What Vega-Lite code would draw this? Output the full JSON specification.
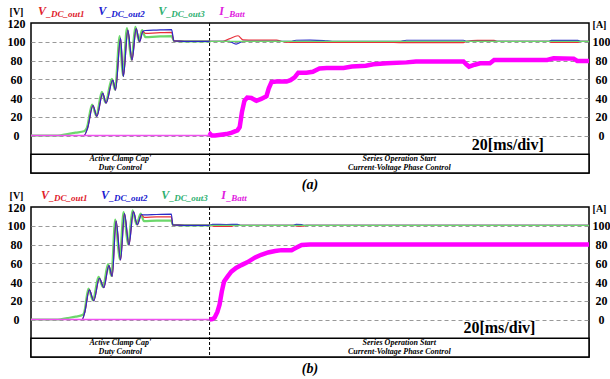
{
"$schema":"https://vega.github.io/schema/vega-lite/v6.json",
"background":"white",
"padding":{"left":6,"top":4,"right":0,"bottom":0},
"spacing":34,
"bounds":"flush",
"config":{"view":{"stroke":"black","strokeWidth":1.5},"font":"Liberation Serif"},
"datasets":{
"a":[
{"series":"V_DC_out1","t":0,"v":0},{"series":"V_DC_out1","t":19,"v":0},{"series":"V_DC_out1","t":20.3,"v":8},{"series":"V_DC_out1","t":22.2,"v":32},{"series":"V_DC_out1","t":23.6,"v":20.5},{"series":"V_DC_out1","t":25.7,"v":45},{"series":"V_DC_out1","t":26.9,"v":34.5},{"series":"V_DC_out1","t":29.3,"v":59},{"series":"V_DC_out1","t":30.3,"v":48.5},{"series":"V_DC_out1","t":32.1,"v":104},{"series":"V_DC_out1","t":33.1,"v":63},{"series":"V_DC_out1","t":34.7,"v":112.5},{"series":"V_DC_out1","t":36.2,"v":80.5},{"series":"V_DC_out1","t":37.7,"v":114},{"series":"V_DC_out1","t":38.9,"v":100},{"series":"V_DC_out1","t":40.1,"v":111},{"series":"V_DC_out1","t":41,"v":109},{"series":"V_DC_out1","t":45,"v":109.5},{"series":"V_DC_out1","t":50.4,"v":110},{"series":"V_DC_out1","t":51.2,"v":101},{"series":"V_DC_out1","t":55,"v":100.5},{"series":"V_DC_out1","t":64,"v":100.5},{"series":"V_DC_out1","t":68.8,"v":100.5},{"series":"V_DC_out1","t":71,"v":103},{"series":"V_DC_out1","t":74.2,"v":106.4},{"series":"V_DC_out1","t":76,"v":102},{"series":"V_DC_out1","t":80,"v":101.8},{"series":"V_DC_out1","t":88,"v":101.8},{"series":"V_DC_out1","t":90,"v":100.3},{"series":"V_DC_out1","t":93,"v":99.3},{"series":"V_DC_out1","t":110,"v":99.2},{"series":"V_DC_out1","t":130,"v":99.3},{"series":"V_DC_out1","t":134,"v":99},{"series":"V_DC_out1","t":155,"v":99},{"series":"V_DC_out1","t":156,"v":100.5},{"series":"V_DC_out1","t":160,"v":101.4},{"series":"V_DC_out1","t":166,"v":101.4},{"series":"V_DC_out1","t":167,"v":100.5},{"series":"V_DC_out1","t":185.6,"v":100.5},{"series":"V_DC_out1","t":186.5,"v":99.4},{"series":"V_DC_out1","t":196,"v":99.4},{"series":"V_DC_out1","t":197,"v":100.5},{"series":"V_DC_out1","t":200,"v":100.5},
{"series":"V_DC_out2","t":0,"v":0},{"series":"V_DC_out2","t":19,"v":0},{"series":"V_DC_out2","t":20.3,"v":8},{"series":"V_DC_out2","t":22.2,"v":32},{"series":"V_DC_out2","t":23.6,"v":20.5},{"series":"V_DC_out2","t":25.7,"v":45},{"series":"V_DC_out2","t":26.9,"v":34.5},{"series":"V_DC_out2","t":29.3,"v":59},{"series":"V_DC_out2","t":30.3,"v":48.5},{"series":"V_DC_out2","t":32.1,"v":104},{"series":"V_DC_out2","t":33.1,"v":63},{"series":"V_DC_out2","t":34.7,"v":112.5},{"series":"V_DC_out2","t":36.2,"v":80.5},{"series":"V_DC_out2","t":37.7,"v":114},{"series":"V_DC_out2","t":38.9,"v":100},{"series":"V_DC_out2","t":40.1,"v":111},{"series":"V_DC_out2","t":41,"v":112},{"series":"V_DC_out2","t":45,"v":112.5},{"series":"V_DC_out2","t":50.4,"v":113},{"series":"V_DC_out2","t":51.2,"v":101},{"series":"V_DC_out2","t":55,"v":100.5},{"series":"V_DC_out2","t":64,"v":100.5},{"series":"V_DC_out2","t":71,"v":100.5},{"series":"V_DC_out2","t":73.5,"v":97.5},{"series":"V_DC_out2","t":76,"v":100.3},{"series":"V_DC_out2","t":93,"v":100.3},{"series":"V_DC_out2","t":95,"v":101.6},{"series":"V_DC_out2","t":100,"v":101.8},{"series":"V_DC_out2","t":105,"v":101.3},{"series":"V_DC_out2","t":108,"v":100.5},{"series":"V_DC_out2","t":132,"v":100.5},{"series":"V_DC_out2","t":134.6,"v":101.6},{"series":"V_DC_out2","t":155,"v":101.6},{"series":"V_DC_out2","t":156,"v":100.5},{"series":"V_DC_out2","t":185.6,"v":100.5},{"series":"V_DC_out2","t":186.5,"v":101.4},{"series":"V_DC_out2","t":196,"v":101.4},{"series":"V_DC_out2","t":197,"v":100.5},{"series":"V_DC_out2","t":200,"v":100.5},
{"series":"V_DC_out3","t":0,"v":0},{"series":"V_DC_out3","t":9.6,"v":0},{"series":"V_DC_out3","t":13,"v":1.5},{"series":"V_DC_out3","t":16,"v":3},{"series":"V_DC_out3","t":19,"v":4.5},{"series":"V_DC_out3","t":20,"v":8},{"series":"V_DC_out3","t":21.9,"v":33},{"series":"V_DC_out3","t":23.4,"v":21},{"series":"V_DC_out3","t":25.4,"v":46.5},{"series":"V_DC_out3","t":26.7,"v":35},{"series":"V_DC_out3","t":29,"v":60.5},{"series":"V_DC_out3","t":30.1,"v":49},{"series":"V_DC_out3","t":31.8,"v":106},{"series":"V_DC_out3","t":32.9,"v":64},{"series":"V_DC_out3","t":34.4,"v":114.5},{"series":"V_DC_out3","t":36,"v":81},{"series":"V_DC_out3","t":37.4,"v":116},{"series":"V_DC_out3","t":38.7,"v":101},{"series":"V_DC_out3","t":39.8,"v":112.5},{"series":"V_DC_out3","t":41,"v":105},{"series":"V_DC_out3","t":45,"v":105.5},{"series":"V_DC_out3","t":50.4,"v":106},{"series":"V_DC_out3","t":51.2,"v":101},{"series":"V_DC_out3","t":55,"v":100.5},{"series":"V_DC_out3","t":64,"v":100.5},{"series":"V_DC_out3","t":200,"v":100.5},
{"series":"I_Batt","t":0,"v":0},{"series":"I_Batt","t":64,"v":0},{"series":"I_Batt","t":64.3,"v":1.5},{"series":"I_Batt","t":64.8,"v":0},{"series":"I_Batt","t":66,"v":0},{"series":"I_Batt","t":70,"v":1.5},{"series":"I_Batt","t":72,"v":3},{"series":"I_Batt","t":74,"v":5.5},{"series":"I_Batt","t":74.8,"v":9},{"series":"I_Batt","t":75.6,"v":25},{"series":"I_Batt","t":76.5,"v":37},{"series":"I_Batt","t":77.5,"v":40.5},{"series":"I_Batt","t":79,"v":40},{"series":"I_Batt","t":80.8,"v":37},{"series":"I_Batt","t":82.5,"v":39},{"series":"I_Batt","t":84.4,"v":42},{"series":"I_Batt","t":85.2,"v":50},{"series":"I_Batt","t":86.2,"v":57},{"series":"I_Batt","t":88,"v":57.5},{"series":"I_Batt","t":91.6,"v":57.5},{"series":"I_Batt","t":93,"v":59},{"series":"I_Batt","t":94.5,"v":62},{"series":"I_Batt","t":95.8,"v":67},{"series":"I_Batt","t":98.7,"v":67},{"series":"I_Batt","t":101,"v":68},{"series":"I_Batt","t":103.4,"v":71.5},{"series":"I_Batt","t":106,"v":72},{"series":"I_Batt","t":112,"v":72},{"series":"I_Batt","t":115,"v":73.5},{"series":"I_Batt","t":120,"v":74.5},{"series":"I_Batt","t":122.7,"v":76},{"series":"I_Batt","t":127.5,"v":77},{"series":"I_Batt","t":134.6,"v":78},{"series":"I_Batt","t":138,"v":79},{"series":"I_Batt","t":155,"v":79},{"series":"I_Batt","t":156,"v":76},{"series":"I_Batt","t":157,"v":73.5},{"series":"I_Batt","t":159,"v":75.5},{"series":"I_Batt","t":161,"v":77},{"series":"I_Batt","t":164.5,"v":77},{"series":"I_Batt","t":166,"v":80.5},{"series":"I_Batt","t":185,"v":80.5},{"series":"I_Batt","t":187.3,"v":82.3},{"series":"I_Batt","t":194.5,"v":82},{"series":"I_Batt","t":195.8,"v":79.5},{"series":"I_Batt","t":200,"v":79.5}
],
"b":[
{"series":"V_DC_out1","t":0,"v":0},{"series":"V_DC_out1","t":18.3,"v":0},{"series":"V_DC_out1","t":19.3,"v":8},{"series":"V_DC_out1","t":20.9,"v":31.5},{"series":"V_DC_out1","t":22.5,"v":20},{"series":"V_DC_out1","t":24.5,"v":44},{"series":"V_DC_out1","t":26.1,"v":34},{"series":"V_DC_out1","t":27.9,"v":57.5},{"series":"V_DC_out1","t":29.1,"v":46},{"series":"V_DC_out1","t":30.5,"v":105},{"series":"V_DC_out1","t":32.1,"v":63.5},{"series":"V_DC_out1","t":33.5,"v":113},{"series":"V_DC_out1","t":35.1,"v":79.5},{"series":"V_DC_out1","t":36.7,"v":115},{"series":"V_DC_out1","t":38.1,"v":101},{"series":"V_DC_out1","t":39.6,"v":112},{"series":"V_DC_out1","t":40.5,"v":109},{"series":"V_DC_out1","t":45,"v":109.5},{"series":"V_DC_out1","t":50.3,"v":109.5},{"series":"V_DC_out1","t":50.8,"v":101},{"series":"V_DC_out1","t":55,"v":100.5},{"series":"V_DC_out1","t":64,"v":100.5},{"series":"V_DC_out1","t":66,"v":99.3},{"series":"V_DC_out1","t":72,"v":99.3},{"series":"V_DC_out1","t":73,"v":100.5},{"series":"V_DC_out1","t":94,"v":100.5},{"series":"V_DC_out1","t":95.5,"v":99.5},{"series":"V_DC_out1","t":97.5,"v":99.5},{"series":"V_DC_out1","t":98.5,"v":100.5},{"series":"V_DC_out1","t":200,"v":100.5},
{"series":"V_DC_out2","t":0,"v":0},{"series":"V_DC_out2","t":18.3,"v":0},{"series":"V_DC_out2","t":19.3,"v":8},{"series":"V_DC_out2","t":20.9,"v":31.5},{"series":"V_DC_out2","t":22.5,"v":20},{"series":"V_DC_out2","t":24.5,"v":44},{"series":"V_DC_out2","t":26.1,"v":34},{"series":"V_DC_out2","t":27.9,"v":57.5},{"series":"V_DC_out2","t":29.1,"v":46},{"series":"V_DC_out2","t":30.5,"v":105},{"series":"V_DC_out2","t":32.1,"v":63.5},{"series":"V_DC_out2","t":33.5,"v":113},{"series":"V_DC_out2","t":35.1,"v":79.5},{"series":"V_DC_out2","t":36.7,"v":115},{"series":"V_DC_out2","t":38.1,"v":101},{"series":"V_DC_out2","t":39.6,"v":112},{"series":"V_DC_out2","t":40.5,"v":111.5},{"series":"V_DC_out2","t":45,"v":112},{"series":"V_DC_out2","t":50.3,"v":112.5},{"series":"V_DC_out2","t":50.8,"v":101},{"series":"V_DC_out2","t":55,"v":100.5},{"series":"V_DC_out2","t":64,"v":100.5},{"series":"V_DC_out2","t":65,"v":101.5},{"series":"V_DC_out2","t":70,"v":101.3},{"series":"V_DC_out2","t":74,"v":101.5},{"series":"V_DC_out2","t":75,"v":100.5},{"series":"V_DC_out2","t":94,"v":100.5},{"series":"V_DC_out2","t":95,"v":101.5},{"series":"V_DC_out2","t":97,"v":101.2},{"series":"V_DC_out2","t":98,"v":100.5},{"series":"V_DC_out2","t":200,"v":100.5},
{"series":"V_DC_out3","t":0,"v":0},{"series":"V_DC_out3","t":9.6,"v":0},{"series":"V_DC_out3","t":13,"v":1.5},{"series":"V_DC_out3","t":16,"v":3},{"series":"V_DC_out3","t":18.6,"v":5},{"series":"V_DC_out3","t":19.1,"v":8},{"series":"V_DC_out3","t":20.6,"v":33},{"series":"V_DC_out3","t":22.2,"v":20.5},{"series":"V_DC_out3","t":24.2,"v":45.5},{"series":"V_DC_out3","t":25.8,"v":34.5},{"series":"V_DC_out3","t":27.6,"v":59},{"series":"V_DC_out3","t":28.8,"v":46.5},{"series":"V_DC_out3","t":30.2,"v":106.5},{"series":"V_DC_out3","t":31.8,"v":64},{"series":"V_DC_out3","t":33.2,"v":114.5},{"series":"V_DC_out3","t":34.8,"v":80},{"series":"V_DC_out3","t":36.4,"v":116.5},{"series":"V_DC_out3","t":37.8,"v":101.5},{"series":"V_DC_out3","t":39.3,"v":113},{"series":"V_DC_out3","t":40.5,"v":105},{"series":"V_DC_out3","t":45,"v":105.5},{"series":"V_DC_out3","t":50.3,"v":105.5},{"series":"V_DC_out3","t":50.8,"v":101},{"series":"V_DC_out3","t":55,"v":100.5},{"series":"V_DC_out3","t":64,"v":100.5},{"series":"V_DC_out3","t":200,"v":100.5},
{"series":"I_Batt","t":0,"v":0},{"series":"I_Batt","t":64,"v":0},{"series":"I_Batt","t":65,"v":0.5},{"series":"I_Batt","t":65.8,"v":2},{"series":"I_Batt","t":66.8,"v":8},{"series":"I_Batt","t":67.6,"v":16},{"series":"I_Batt","t":68.4,"v":30},{"series":"I_Batt","t":69.2,"v":40.5},{"series":"I_Batt","t":70.5,"v":46},{"series":"I_Batt","t":71.8,"v":51},{"series":"I_Batt","t":73.5,"v":55},{"series":"I_Batt","t":75.4,"v":58},{"series":"I_Batt","t":77.5,"v":61},{"series":"I_Batt","t":80.2,"v":66},{"series":"I_Batt","t":82.5,"v":69},{"series":"I_Batt","t":85,"v":71.5},{"series":"I_Batt","t":87.5,"v":73},{"series":"I_Batt","t":89.8,"v":74},{"series":"I_Batt","t":93.4,"v":74},{"series":"I_Batt","t":95,"v":76.5},{"series":"I_Batt","t":97,"v":79.5},{"series":"I_Batt","t":100,"v":80},{"series":"I_Batt","t":200,"v":80}
]
},
"vconcat":[
{
"width":558,"height":150,
"data":{"name":"a"},
"title":{"text":"(a)","orient":"bottom","anchor":"middle","offset":4,"baseline":"top","font":"Liberation Serif","fontSize":14,"fontStyle":"italic","fontWeight":"bold","color":"black"},
"resolve":{"axis":{"y":"independent"}},
"layer":[
{"data":{"values":[{}]},"mark":{"type":"rect","fill":"white","stroke":"black","strokeWidth":1.5},
 "encoding":{
  "x":{"datum":0,"type":"quantitative","scale":{"domain":[0,200],"nice":false},"axis":{"values":[20,40,60,80,100,120,140,160,180],"grid":true,"gridDash":[2,3],"gridColor":"#999999","gridWidth":1,"labels":false,"ticks":false,"domain":false,"title":null}},
  "x2":{"datum":200},
  "y":{"datum":-40,"type":"quantitative","scale":{"domain":[-40,120],"nice":false},"axis":{"orient":"left","values":[0,20,40,60,80,100,120],"grid":true,"gridDash":[4,3],"gridColor":{"condition":{"test":"datum.value == 120","value":"transparent"},"value":"#999999"},"gridWidth":1,"ticks":false,"tickSize":0,"domain":false,"labelFont":"Liberation Serif","labelFontWeight":"bold","labelFontSize":12,"labelColor":"black","labelAlign":"center","labelBaseline":"middle","labelPadding":15,"labelFlush":false,"labelOverlap":false,"title":"[V]","titleAngle":0,"titleX":-15,"titleY":-12,"titleAlign":"center","titleBaseline":"middle","titleFont":"Liberation Serif","titleFontWeight":"bold","titleFontSize":10,"titleColor":"black"}},
  "y2":{"datum":-20}}},
{"data":{"values":[{}]},"mark":{"type":"rule","color":"black","strokeDash":[3,2],"strokeWidth":1},"encoding":{"x":{"datum":64,"type":"quantitative","axis":null}}},
{"transform":[{"filter":"datum.series == 'V_DC_out3' && datum.t <= 64"}],"mark":{"type":"line","color":"#6cd86c","strokeWidth":2.2,"interpolate":"monotone"},"encoding":{"x":{"field":"t","type":"quantitative","axis":null},"y":{"field":"v","type":"quantitative","axis":null}}},
{"transform":[{"filter":"datum.series == 'V_DC_out1'"}],"mark":{"type":"line","color":"#e8303a","strokeWidth":1.2,"interpolate":"monotone"},"encoding":{"x":{"field":"t","type":"quantitative","axis":null},"y":{"field":"v","type":"quantitative","axis":null}}},
{"transform":[{"filter":"datum.series == 'V_DC_out2'"}],"mark":{"type":"line","color":"#2a2ac8","strokeWidth":1.2,"interpolate":"monotone"},"encoding":{"x":{"field":"t","type":"quantitative","axis":null},"y":{"field":"v","type":"quantitative","axis":null}}},
{"transform":[{"filter":"datum.series == 'V_DC_out3' && datum.t >= 64"}],"mark":{"type":"line","color":"#6cd86c","strokeWidth":1.3},"encoding":{"x":{"field":"t","type":"quantitative","axis":null},"y":{"field":"v","type":"quantitative","axis":null}}},
{"transform":[{"filter":"datum.series == 'I_Batt' && datum.t <= 64"}],"mark":{"type":"line","color":"#f050f0","strokeWidth":1.5},"encoding":{"x":{"field":"t","type":"quantitative","axis":null},"y":{"field":"v","type":"quantitative","axis":null}}},
{"transform":[{"filter":"datum.series == 'I_Batt' && datum.t >= 64"}],"mark":{"type":"line","color":"#ff00ff","strokeWidth":4.5},"encoding":{"x":{"field":"t","type":"quantitative","axis":null},"y":{"field":"v","type":"quantitative","axis":{"orient":"right","values":[0,20,40,60,80,100],"grid":false,"ticks":false,"tickSize":0,"domain":false,"labelFont":"Liberation Serif","labelFontWeight":"bold","labelFontSize":12,"labelColor":"black","labelAlign":"center","labelBaseline":"middle","labelPadding":12,"labelFlush":false,"labelOverlap":false,"title":"[A]","titleAngle":0,"titleX":10,"titleY":1,"titleAlign":"center","titleBaseline":"middle","titleFont":"Liberation Serif","titleFontWeight":"bold","titleFontSize":10,"titleColor":"black"}}}},
{"data":{"values":[{}]},"mark":{"type":"text","text":"V","fontSize":12,"fontWeight":"bold","fontStyle":"italic","color":"#e0202a","align":"left","baseline":"alphabetic","dy":-8},"encoding":{"x":{"datum":2.5,"type":"quantitative","axis":null},"y":{"datum":120,"type":"quantitative","axis":null}}},
{"data":{"values":[{}]},"mark":{"type":"text","text":"_DC_out1","fontSize":9,"fontWeight":"bold","fontStyle":"italic","color":"#e0202a","align":"left","baseline":"alphabetic","dx":8.5,"dy":-6},"encoding":{"x":{"datum":2.5,"type":"quantitative","axis":null},"y":{"datum":120,"type":"quantitative","axis":null}}},
{"data":{"values":[{}]},"mark":{"type":"text","text":"V","fontSize":12,"fontWeight":"bold","fontStyle":"italic","color":"#2020d0","align":"left","baseline":"alphabetic","dy":-8},"encoding":{"x":{"datum":24.1,"type":"quantitative","axis":null},"y":{"datum":120,"type":"quantitative","axis":null}}},
{"data":{"values":[{}]},"mark":{"type":"text","text":"_DC_out2","fontSize":9,"fontWeight":"bold","fontStyle":"italic","color":"#2020d0","align":"left","baseline":"alphabetic","dx":8.5,"dy":-6},"encoding":{"x":{"datum":24.1,"type":"quantitative","axis":null},"y":{"datum":120,"type":"quantitative","axis":null}}},
{"data":{"values":[{}]},"mark":{"type":"text","text":"V","fontSize":12,"fontWeight":"bold","fontStyle":"italic","color":"#2fb070","align":"left","baseline":"alphabetic","dy":-8},"encoding":{"x":{"datum":45.6,"type":"quantitative","axis":null},"y":{"datum":120,"type":"quantitative","axis":null}}},
{"data":{"values":[{}]},"mark":{"type":"text","text":"_DC_out3","fontSize":9,"fontWeight":"bold","fontStyle":"italic","color":"#2fb070","align":"left","baseline":"alphabetic","dx":8.5,"dy":-6},"encoding":{"x":{"datum":45.6,"type":"quantitative","axis":null},"y":{"datum":120,"type":"quantitative","axis":null}}},
{"data":{"values":[{}]},"mark":{"type":"text","text":"I","fontSize":12,"fontWeight":"bold","fontStyle":"italic","color":"#e020e0","align":"left","baseline":"alphabetic","dy":-8},"encoding":{"x":{"datum":67.5,"type":"quantitative","axis":null},"y":{"datum":120,"type":"quantitative","axis":null}}},
{"data":{"values":[{}]},"mark":{"type":"text","text":"_Batt","fontSize":9,"fontWeight":"bold","fontStyle":"italic","color":"#e020e0","align":"left","baseline":"alphabetic","dx":5.5,"dy":-6},"encoding":{"x":{"datum":67.5,"type":"quantitative","axis":null},"y":{"datum":120,"type":"quantitative","axis":null}}},
{"data":{"values":[{}]},"mark":{"type":"text","text":["Active Clamp Cap'","Duty Control"],"fontSize":8,"lineHeight":8.5,"fontWeight":"bold","fontStyle":"italic","color":"black","align":"center","baseline":"middle"},"encoding":{"x":{"datum":32,"type":"quantitative","axis":null},"y":{"datum":-25.2,"type":"quantitative","axis":null}}},
{"data":{"values":[{}]},"mark":{"type":"text","text":["Series Operation Start","Current-Voltage Phase Control"],"fontSize":8,"lineHeight":8.5,"fontWeight":"bold","fontStyle":"italic","color":"black","align":"center","baseline":"middle"},"encoding":{"x":{"datum":132,"type":"quantitative","axis":null},"y":{"datum":-25.2,"type":"quantitative","axis":null}}},
{"data":{"values":[{}]},"mark":{"type":"text","text":"20[ms/div]","fontSize":16,"fontWeight":"bold","color":"black","align":"left","baseline":"alphabetic"},"encoding":{"x":{"datum":158,"type":"quantitative","axis":null},"y":{"datum":-15.6,"type":"quantitative","axis":null}}}
]
},
{
"width":558,"height":150,
"data":{"name":"b"},
"title":{"text":"(b)","orient":"bottom","anchor":"middle","offset":4,"baseline":"top","font":"Liberation Serif","fontSize":14,"fontStyle":"italic","fontWeight":"bold","color":"black"},
"resolve":{"axis":{"y":"independent"}},
"layer":[
{"data":{"values":[{}]},"mark":{"type":"rect","fill":"white","stroke":"black","strokeWidth":1.5},
 "encoding":{
  "x":{"datum":0,"type":"quantitative","scale":{"domain":[0,200],"nice":false},"axis":{"values":[20,40,60,80,100,120,140,160,180],"grid":true,"gridDash":[2,3],"gridColor":"#999999","gridWidth":1,"labels":false,"ticks":false,"domain":false,"title":null}},
  "x2":{"datum":200},
  "y":{"datum":-40,"type":"quantitative","scale":{"domain":[-40,120],"nice":false},"axis":{"orient":"left","values":[0,20,40,60,80,100,120],"grid":true,"gridDash":[4,3],"gridColor":{"condition":{"test":"datum.value == 120","value":"transparent"},"value":"#999999"},"gridWidth":1,"ticks":false,"tickSize":0,"domain":false,"labelFont":"Liberation Serif","labelFontWeight":"bold","labelFontSize":12,"labelColor":"black","labelAlign":"center","labelBaseline":"middle","labelPadding":15,"labelFlush":false,"labelOverlap":false,"title":"[V]","titleAngle":0,"titleX":-15,"titleY":-12,"titleAlign":"center","titleBaseline":"middle","titleFont":"Liberation Serif","titleFontWeight":"bold","titleFontSize":10,"titleColor":"black"}},
  "y2":{"datum":-20}}},
{"data":{"values":[{}]},"mark":{"type":"rule","color":"black","strokeDash":[3,2],"strokeWidth":1},"encoding":{"x":{"datum":64,"type":"quantitative","axis":null}}},
{"transform":[{"filter":"datum.series == 'V_DC_out3' && datum.t <= 64"}],"mark":{"type":"line","color":"#6cd86c","strokeWidth":2.2,"interpolate":"monotone"},"encoding":{"x":{"field":"t","type":"quantitative","axis":null},"y":{"field":"v","type":"quantitative","axis":null}}},
{"transform":[{"filter":"datum.series == 'V_DC_out1'"}],"mark":{"type":"line","color":"#e8303a","strokeWidth":1.2,"interpolate":"monotone"},"encoding":{"x":{"field":"t","type":"quantitative","axis":null},"y":{"field":"v","type":"quantitative","axis":null}}},
{"transform":[{"filter":"datum.series == 'V_DC_out2'"}],"mark":{"type":"line","color":"#2a2ac8","strokeWidth":1.2,"interpolate":"monotone"},"encoding":{"x":{"field":"t","type":"quantitative","axis":null},"y":{"field":"v","type":"quantitative","axis":null}}},
{"transform":[{"filter":"datum.series == 'V_DC_out3' && datum.t >= 64"}],"mark":{"type":"line","color":"#6cd86c","strokeWidth":1.3},"encoding":{"x":{"field":"t","type":"quantitative","axis":null},"y":{"field":"v","type":"quantitative","axis":null}}},
{"transform":[{"filter":"datum.series == 'I_Batt' && datum.t <= 64"}],"mark":{"type":"line","color":"#f050f0","strokeWidth":1.5},"encoding":{"x":{"field":"t","type":"quantitative","axis":null},"y":{"field":"v","type":"quantitative","axis":null}}},
{"transform":[{"filter":"datum.series == 'I_Batt' && datum.t >= 64"}],"mark":{"type":"line","color":"#ff00ff","strokeWidth":4.5},"encoding":{"x":{"field":"t","type":"quantitative","axis":null},"y":{"field":"v","type":"quantitative","axis":{"orient":"right","values":[0,20,40,60,80,100],"grid":false,"ticks":false,"tickSize":0,"domain":false,"labelFont":"Liberation Serif","labelFontWeight":"bold","labelFontSize":12,"labelColor":"black","labelAlign":"center","labelBaseline":"middle","labelPadding":12,"labelFlush":false,"labelOverlap":false,"title":"[A]","titleAngle":0,"titleX":10,"titleY":1,"titleAlign":"center","titleBaseline":"middle","titleFont":"Liberation Serif","titleFontWeight":"bold","titleFontSize":10,"titleColor":"black"}}}},
{"data":{"values":[{}]},"mark":{"type":"text","text":"V","fontSize":12,"fontWeight":"bold","fontStyle":"italic","color":"#e0202a","align":"left","baseline":"alphabetic","dy":-8},"encoding":{"x":{"datum":3.6,"type":"quantitative","axis":null},"y":{"datum":120,"type":"quantitative","axis":null}}},
{"data":{"values":[{}]},"mark":{"type":"text","text":"_DC_out1","fontSize":9,"fontWeight":"bold","fontStyle":"italic","color":"#e0202a","align":"left","baseline":"alphabetic","dx":8.5,"dy":-6},"encoding":{"x":{"datum":3.6,"type":"quantitative","axis":null},"y":{"datum":120,"type":"quantitative","axis":null}}},
{"data":{"values":[{}]},"mark":{"type":"text","text":"V","fontSize":12,"fontWeight":"bold","fontStyle":"italic","color":"#2020d0","align":"left","baseline":"alphabetic","dy":-8},"encoding":{"x":{"datum":25.1,"type":"quantitative","axis":null},"y":{"datum":120,"type":"quantitative","axis":null}}},
{"data":{"values":[{}]},"mark":{"type":"text","text":"_DC_out2","fontSize":9,"fontWeight":"bold","fontStyle":"italic","color":"#2020d0","align":"left","baseline":"alphabetic","dx":8.5,"dy":-6},"encoding":{"x":{"datum":25.1,"type":"quantitative","axis":null},"y":{"datum":120,"type":"quantitative","axis":null}}},
{"data":{"values":[{}]},"mark":{"type":"text","text":"V","fontSize":12,"fontWeight":"bold","fontStyle":"italic","color":"#2fb070","align":"left","baseline":"alphabetic","dy":-8},"encoding":{"x":{"datum":46.7,"type":"quantitative","axis":null},"y":{"datum":120,"type":"quantitative","axis":null}}},
{"data":{"values":[{}]},"mark":{"type":"text","text":"_DC_out3","fontSize":9,"fontWeight":"bold","fontStyle":"italic","color":"#2fb070","align":"left","baseline":"alphabetic","dx":8.5,"dy":-6},"encoding":{"x":{"datum":46.7,"type":"quantitative","axis":null},"y":{"datum":120,"type":"quantitative","axis":null}}},
{"data":{"values":[{}]},"mark":{"type":"text","text":"I","fontSize":12,"fontWeight":"bold","fontStyle":"italic","color":"#e020e0","align":"left","baseline":"alphabetic","dy":-8},"encoding":{"x":{"datum":68.2,"type":"quantitative","axis":null},"y":{"datum":120,"type":"quantitative","axis":null}}},
{"data":{"values":[{}]},"mark":{"type":"text","text":"_Batt","fontSize":9,"fontWeight":"bold","fontStyle":"italic","color":"#e020e0","align":"left","baseline":"alphabetic","dx":5.5,"dy":-6},"encoding":{"x":{"datum":68.2,"type":"quantitative","axis":null},"y":{"datum":120,"type":"quantitative","axis":null}}},
{"data":{"values":[{}]},"mark":{"type":"text","text":["Active Clamp Cap'","Duty Control"],"fontSize":8,"lineHeight":8.5,"fontWeight":"bold","fontStyle":"italic","color":"black","align":"center","baseline":"middle"},"encoding":{"x":{"datum":32,"type":"quantitative","axis":null},"y":{"datum":-25.2,"type":"quantitative","axis":null}}},
{"data":{"values":[{}]},"mark":{"type":"text","text":["Series Operation Start","Current-Voltage Phase Control"],"fontSize":8,"lineHeight":8.5,"fontWeight":"bold","fontStyle":"italic","color":"black","align":"center","baseline":"middle"},"encoding":{"x":{"datum":132,"type":"quantitative","axis":null},"y":{"datum":-25.2,"type":"quantitative","axis":null}}},
{"data":{"values":[{}]},"mark":{"type":"text","text":"20[ms/div]","fontSize":16,"fontWeight":"bold","color":"black","align":"left","baseline":"alphabetic"},"encoding":{"x":{"datum":155,"type":"quantitative","axis":null},"y":{"datum":-14.5,"type":"quantitative","axis":null}}}
]
}
]
}
